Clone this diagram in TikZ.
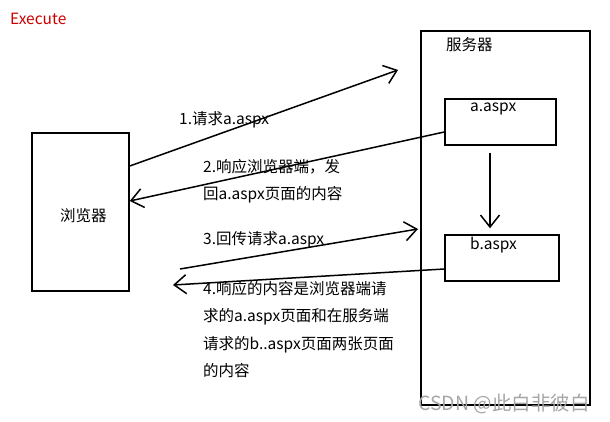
\documentclass[tikz,border=0pt]{standalone}
\usepackage{fontspec}
\setmainfont{Noto Sans CJK SC}
\usetikzlibrary{arrows.meta}
\colorlet{execred}{red!80!black}
\colorlet{markgray}{black!35}
\tikzstyle{box}=[draw,line width=1.5pt,inner sep=0pt]
\tikzstyle{msg}=[line width=1.5pt,-{Straight Barb[length=12pt,width=19pt]}]
\tikzstyle{txt}=[anchor=west,inner sep=0pt,font=\fontsize{15.5}{27.5}\selectfont]
\tikzstyle{par}=[txt,anchor=north west,align=left]

\begin{document}
\begin{tikzpicture}[x=1pt,y=-1pt]
  \useasboundingbox (0,0) rectangle (610,422);
  \node[txt,text=execred,font=\fontsize{15.5}{18}\selectfont] (title) at (10,19) {Execute};
  % boxes
  \node[box,minimum width=97pt,minimum height=158pt]  (browser) at (80.5,212) {};
  \node[box,minimum width=169pt,minimum height=374pt] (server)  at (505.5,218) {};
  \node[box,minimum width=111pt,minimum height=46pt]  (apage)   at (500.5,122) {};
  \node[box,minimum width=114pt,minimum height=46pt]  (bpage)   at (502,258) {};
  \node[txt] (browsertxt) at (60,216)  {浏览器};
  \node[txt] (servertxt)  at (446,45)  {服务器};
  \node[txt] (apagetxt)   at (470,109) {a.aspx};
  \node[txt] (bpagetxt)   at (470,245) {b.aspx};
  % free ends
  \coordinate (req1)  at (398,70);
  \coordinate (back3) at (180,269);
  \coordinate (req3)  at (418,229);
  \coordinate (resp4) at (173,285);
  % messages
  \draw[msg] (browser.east |- 0,166) -- (req1);
  \draw[msg] (apage.west |- 0,132) -- (browser.east |- 0,201);
  \draw[msg] (back3) -- (req3);
  \draw[msg] (bpage.west |- 0,269) -- (resp4);
  \draw[msg,shorten <=7pt,shorten >=6pt] (apage.south -| 490,0) -- (bpage.north -| 490,0);
  % labels
  \node[txt] (lab1) at (179,120) {1.请求a.aspx};
  \node[par] (lab2) at (203,159) {2.响应浏览器端，发\\回a.aspx页面的内容};
  \node[txt] (lab3) at (203,240) {3.回传请求a.aspx};
  \node[par] (lab4) at (203,281) {4.响应的内容是浏览器端请\\求的a.aspx页面和在服务端\\请求的b..aspx页面两张页面\\的内容};
  \node[txt,text=markgray,font=\fontsize{19.5}{22}\selectfont] (mark) at (418,404) {CSDN @此白非彼白};
\end{tikzpicture}
\end{document}
